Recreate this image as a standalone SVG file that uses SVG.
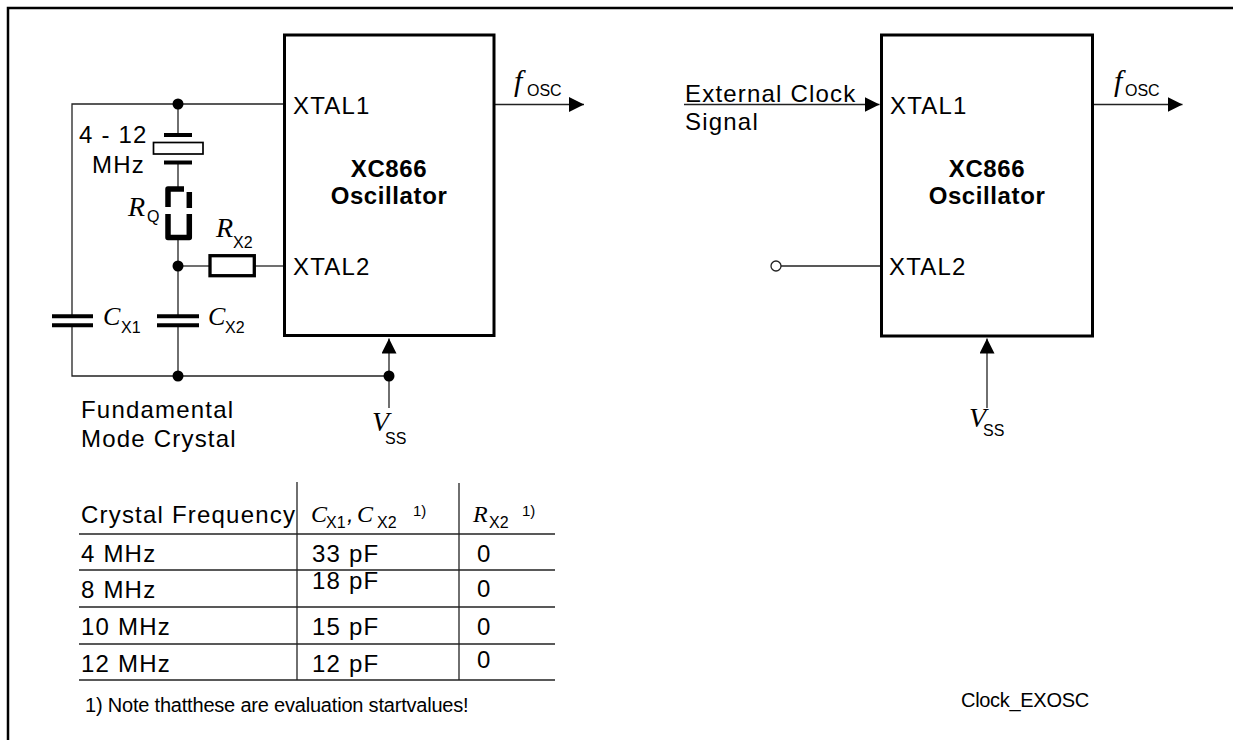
<svg xmlns="http://www.w3.org/2000/svg" width="1233" height="740" viewBox="0 0 1233 740">
<defs>
<style>
.t{font-family:"Liberation Sans",Arial,sans-serif;font-size:24px;letter-spacing:1.2px;fill:#000}
.b{font-family:"Liberation Sans",Arial,sans-serif;font-size:24px;font-weight:bold;letter-spacing:0.6px;fill:#000}
.i{font-family:"Liberation Serif","Times New Roman",serif;font-style:italic;font-size:26px;letter-spacing:0;fill:#000}
.ib{font-size:28px}
.ih{font-family:"Liberation Serif","Times New Roman",serif;font-style:italic;font-size:24px;letter-spacing:0;fill:#000}
.s{font-family:"Liberation Sans",Arial,sans-serif;font-size:16px;font-style:normal;letter-spacing:0;fill:#000}
.sup{font-family:"Liberation Sans",Arial,sans-serif;font-size:15px;font-style:normal;letter-spacing:0;fill:#000}
.w{stroke:#222;stroke-width:1.3;fill:none}
.box{fill:#fff;stroke:#000;stroke-width:3}
.dot{fill:#000}
.plate{stroke:#000;stroke-width:4}
.tl{stroke:#222;stroke-width:1.3}
</style>
<marker id="arr" markerUnits="userSpaceOnUse" markerWidth="16" markerHeight="16" refX="15" refY="7.5" orient="auto">
<path d="M0,0 L15,7.5 L0,15 z" fill="#000"/>
</marker>
</defs>
<rect width="1233" height="740" fill="#fff"/>
<path d="M8,740 V8 H1233" fill="none" stroke="#000" stroke-width="2.5"/>

<g id="connectors">
<path class="w" d="M284,104 H72 V316.3"/>
<path class="w" d="M72,325.3 V376 H389"/>
<path class="w" d="M178,104 V135"/>
<path class="w" d="M178,162.5 V188"/>
<path class="w" d="M178,238 V316.3"/>
<path class="w" d="M178,325.3 V376"/>
<path class="w" d="M178,266 H210"/>
<path class="w" d="M254,266 H284"/>
<path class="w" d="M495,104.5 H584" marker-end="url(#arr)"/>
<path class="w" d="M389,408 V338.5" marker-end="url(#arr)"/>
<path class="w" d="M684,104.5 H879.5" marker-end="url(#arr)"/>
<path class="w" d="M781,266 H881"/>
<path class="w" d="M1094,104.5 H1182.5" marker-end="url(#arr)"/>
<path class="w" d="M987,408 V338.5" marker-end="url(#arr)"/>
</g>

<g id="osc-left">
<rect class="box" x="284.5" y="35" width="209.5" height="300.5"/>
<text class="t" x="293" y="114">XTAL1</text>
<text class="t" x="293" y="275">XTAL2</text>
<text class="b" x="389" y="177" text-anchor="middle">XC866</text>
<text class="b" x="389" y="204" text-anchor="middle">Oscillator</text>
</g>

<g id="osc-right">
<rect class="box" x="881.5" y="35" width="211" height="301"/>
<text class="t" x="890" y="114">XTAL1</text>
<text class="t" x="889" y="275">XTAL2</text>
<text class="b" x="987" y="177" text-anchor="middle">XC866</text>
<text class="b" x="987" y="204" text-anchor="middle">Oscillator</text>
</g>

<g id="crystal">
<line class="plate" x1="164" y1="135" x2="192" y2="135" stroke-width="3.3"/>
<rect x="153.5" y="142.5" width="49.5" height="11.5" fill="#fff" stroke="#000" stroke-width="1.7"/>
<line class="plate" x1="164" y1="162.5" x2="192" y2="162.5" stroke-width="3.3"/>
<text class="t" x="79" y="143">4 - 12</text>
<text class="t" x="92" y="173">MHz</text>
</g>

<g id="rq">
<g fill="none" stroke="#000" stroke-width="5.5" stroke-linejoin="round">
<path d="M168,207 V189 H184"/>
<path d="M189.3,192 V208"/>
<path d="M168,214 V237.5 H189.3 V214"/>
</g>
<text class="i ib" x="128" y="216">R<tspan class="s" x="147" y="222">Q</tspan></text>
</g>

<g id="rx2">
<rect x="210" y="255.7" width="44.3" height="20" fill="#fff" stroke="#000" stroke-width="3.3"/>
<text class="i ib" x="216" y="237">R<tspan class="s" x="233" y="248">X2</tspan></text>
</g>

<g id="cx1">
<line class="plate" x1="52" y1="316.3" x2="93" y2="316.3"/>
<line class="plate" x1="52" y1="325.3" x2="93" y2="325.3"/>
<text class="i" x="103" y="325">C<tspan class="s" x="121" y="333">X1</tspan></text>
</g>

<g id="cx2">
<line class="plate" x1="157" y1="316.3" x2="199" y2="316.3"/>
<line class="plate" x1="157" y1="325.3" x2="199" y2="325.3"/>
<text class="i" x="208" y="325">C<tspan class="s" x="225" y="333">X2</tspan></text>
</g>

<g id="junctions">
<circle class="dot" cx="178" cy="104" r="5.5"/>
<circle class="dot" cx="178" cy="266" r="5.5"/>
<circle class="dot" cx="178" cy="376" r="5.5"/>
<circle class="dot" cx="389" cy="376" r="5.5"/>
<circle cx="776" cy="266" r="5" fill="#fff" stroke="#222" stroke-width="1.3"/>
</g>

<g id="labels">
<text class="i" x="514" y="91" style="font-size:30px">f<tspan class="s" x="527" y="96">OSC</tspan></text>
<text class="i" x="1114" y="91" style="font-size:30px">f<tspan class="s" x="1125" y="96">OSC</tspan></text>
<text class="i ib" x="372" y="431">V<tspan class="s" x="385" y="444">SS</tspan></text>
<text class="i ib" x="969" y="427">V<tspan class="s" x="983" y="436">SS</tspan></text>
<text class="t" x="81" y="418">Fundamental</text>
<text class="t" x="81" y="447">Mode Crystal</text>
<text class="t" x="685" y="102">External Clock</text>
<text class="t" x="685" y="130">Signal</text>
<text x="961" y="707" font-family="Liberation Sans, Arial, sans-serif" font-size="20" letter-spacing="-0.3">Clock_EXOSC</text>
</g>

<g id="table">
<line class="tl" x1="79" y1="534" x2="555" y2="534"/>
<line class="tl" x1="79" y1="570" x2="555" y2="570"/>
<line class="tl" x1="79" y1="607" x2="555" y2="607"/>
<line class="tl" x1="79" y1="644" x2="555" y2="644"/>
<line class="tl" x1="79" y1="680" x2="555" y2="680"/>
<line class="tl" x1="297" y1="482" x2="297" y2="680"/>
<line class="tl" x1="459" y1="483" x2="459" y2="680"/>
<text class="t" x="81" y="523">Crystal Frequency</text>
<text class="ih" x="311" y="522">C<tspan class="s" x="326" y="528">X1</tspan><tspan class="t" x="347" y="522">,</tspan><tspan x="357" y="522">C</tspan><tspan class="s" x="377" y="528">X2</tspan><tspan class="sup" x="413" y="516">1)</tspan></text>
<text class="ih" x="473" y="522">R<tspan class="s" x="489" y="528">X2</tspan><tspan class="sup" x="522" y="516">1)</tspan></text>
<text class="t" x="81" y="562">4 MHz</text>
<text class="t" x="81" y="598">8 MHz</text>
<text class="t" x="81" y="635">10 MHz</text>
<text class="t" x="81" y="672">12 MHz</text>
<text class="t" x="312" y="562">33 pF</text>
<text class="t" x="312" y="589">18 pF</text>
<text class="t" x="312" y="635">15 pF</text>
<text class="t" x="312" y="672">12 pF</text>
<text class="t" x="477" y="562">0</text>
<text class="t" x="477" y="597">0</text>
<text class="t" x="477" y="635">0</text>
<text class="t" x="477" y="668">0</text>
<text x="85" y="712" font-family="Liberation Sans, Arial, sans-serif" font-size="20" letter-spacing="-0.2">1) Note thatthese are evaluation startvalues!</text>
</g>
</svg>
